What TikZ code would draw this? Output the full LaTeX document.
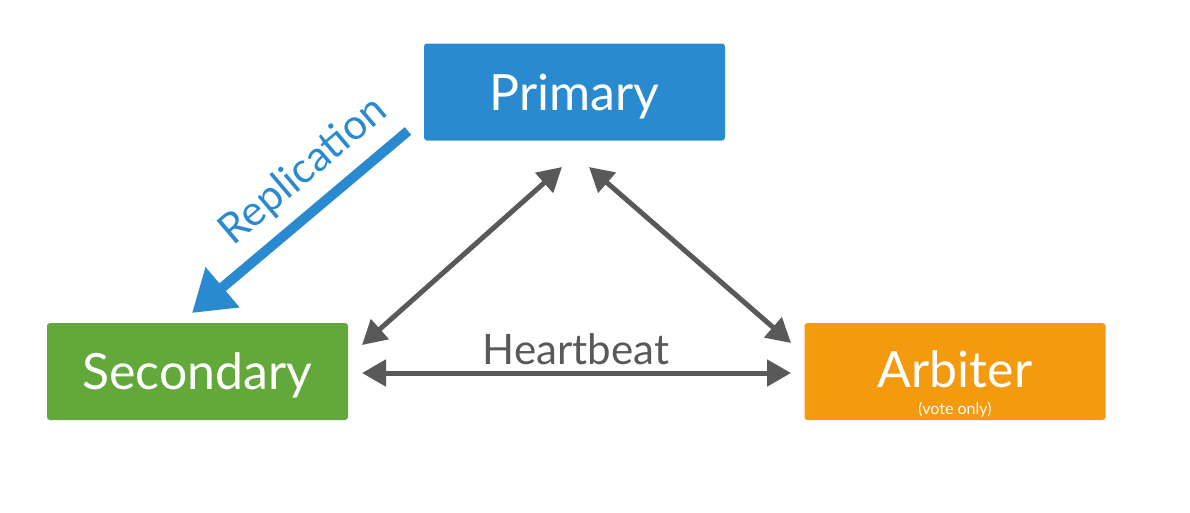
\documentclass[tikz,border=0pt]{standalone}
\usepackage{fontspec}
\setmainfont{Lato}
\usetikzlibrary{arrows.meta}
\definecolor{prim}{HTML}{2A8AD0}
\definecolor{seco}{HTML}{62A83B}
\definecolor{arbi}{HTML}{F39A0E}
\definecolor{link}{HTML}{595959}
\begin{document}
\begin{tikzpicture}[x=1pt,y=-1pt,
  box/.style={rounded corners=3pt, minimum width=301pt, minimum height=97pt,
    inner sep=0pt, text=white, text depth=0pt, font=\fontsize{50}{52}\selectfont},
  beat/.style={draw=link, line width=5pt,
    {Triangle[length=24pt,width=26pt]}-{Triangle[length=24pt,width=26pt]}},
  repl/.style={draw=prim, line width=10pt, -{Triangle[length=40pt,width=50pt]}}]
  \useasboundingbox (0,0) rectangle (1190,512);
  % the three members of the set
  \node[box, fill=prim] (primary) at (574.5,92) {Primary};
  \node[box, fill=seco] (secondary) at (197.5,371.5) {Secondary};
  \node[box, fill=arbi] (arbiter) at (955,371.5) {};
  \node[text=white, font=\fontsize{50}{52}\selectfont] (arbname) at (955,369) {Arbiter};
  \node[text=white, font=\fontsize{16}{18}\selectfont] (arbnote) at (955,410) {(vote only)};
  % end points of the heartbeat links
  \coordinate (ps1) at (562,167);
  \coordinate (ps2) at (362,345);
  \coordinate (pa1) at (589,167);
  \coordinate (pa2) at (791,343);
  \coordinate (sa1) at (362,373);
  \coordinate (sa2) at (791,373);
  \draw[beat] (ps1) -- (ps2);
  \draw[beat] (pa1) -- (pa2);
  \draw[beat] (sa1) -- (sa2);
  \node[text=link, font=\fontsize{42}{44}\selectfont] (hb) at (576,349) {Heartbeat};
  % replication from primary to secondary
  \coordinate (r1) at (408,131);
  \coordinate (r2) at (192,313);
  \draw[repl] (r1) -- (r2);
  \node[text=prim, rotate=40.3, font=\fontsize{42}{44}\selectfont] (repllabel) at (304,171) {Replication};
\end{tikzpicture}
\end{document}
